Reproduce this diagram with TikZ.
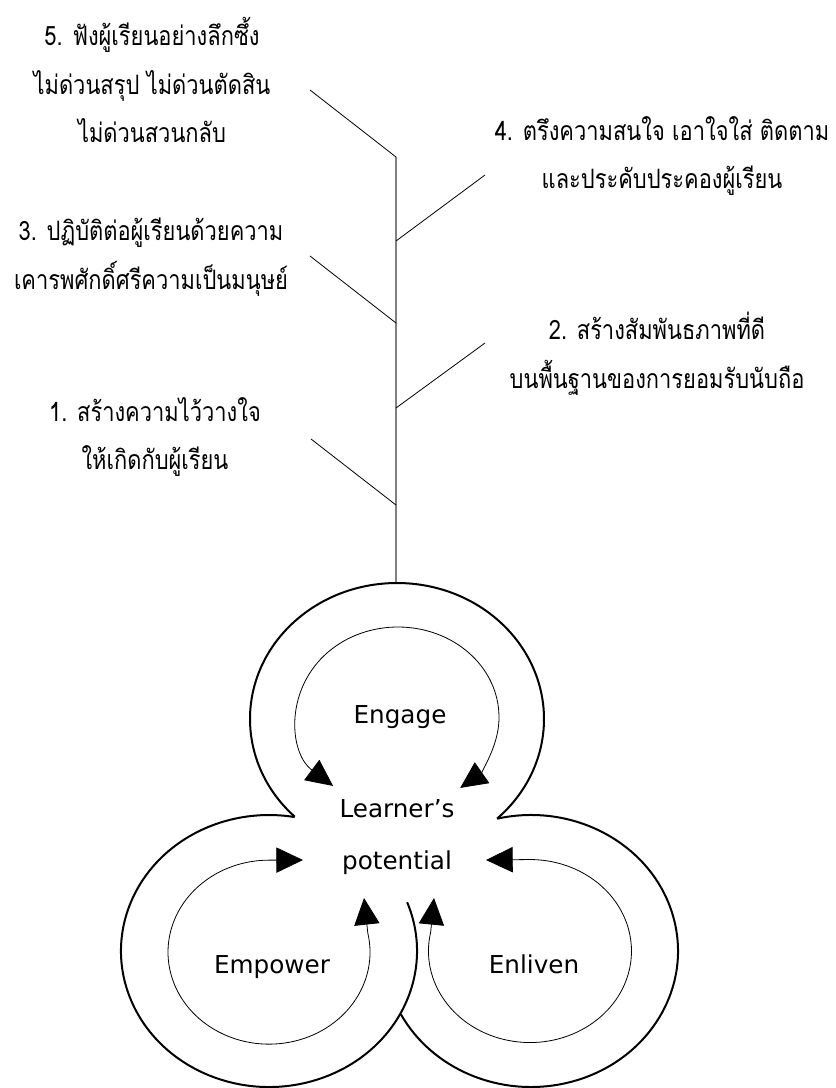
\documentclass[tikz,border=0pt]{standalone}
\usepackage{fontspec}
\setmainfont{DejaVu Sans}
\newfontfamily\thaifont[Script=Thai,FakeStretch=0.82]{Loma}
\usetikzlibrary{arrows.meta}

\begin{document}
\begin{tikzpicture}[x=0.75pt,y=-0.75pt,
  branch/.style={black,line width=0.6pt},
  rim/.style={black,line width=1.5pt},
  loop/.style={black,line width=0.6pt,{Triangle[length=20pt,width=19pt]}-{Triangle[length=20pt,width=19pt]}},
  idea/.style={font=\thaifont\fontsize{20}{36.5}\selectfont,align=center,inner sep=0pt},
  word/.style={font=\fontsize{18.5}{22}\selectfont,inner sep=0pt,anchor=base}]
\useasboundingbox[fill=white] (0,0) rectangle (835,1088);

% trunk
\coordinate (s5) at (396,157);
\coordinate (foot) at (396,583);
\draw[gray,line width=1.1pt] (s5) -- (foot);

% branches
\coordinate (s4) at (396,241);
\coordinate (s3) at (396,323);
\coordinate (s2) at (396,408);
\coordinate (s1) at (396,505);
\coordinate (e5) at (310,90);
\coordinate (e4) at (485,175);
\coordinate (e3) at (310,256);
\coordinate (e2) at (485,343);
\coordinate (e1) at (311,439);
\foreach \i in {1,...,5} \draw[branch] (e\i) -- (s\i);

\node[idea] (t5) at (152,80) {5. ฟังผู้เรียนอย่างลึกซึ้ง\\ไม่ด่วนสรุป ไม่ด่วนตัดสิน\\ไม่ด่วนสวนกลับ};
\node[idea] (t4) at (662,156) {4. ตรึงความสนใจ เอาใจใส่ ติดตาม\\และประคับประคองผู้เรียน};
\node[idea] (t3) at (151,257) {3. ปฏิบัติต่อผู้เรียนด้วยความ\\เคารพศักดิ์ศรีความเป็นมนุษย์};
\node[idea] (t2) at (657,354) {2. สร้างสัมพันธภาพที่ดี\\บนพื้นฐานของการยอมรับนับถือ};
\node[idea] (t1) at (155,437) {1. สร้างความไว้วางใจ\\ให้เกิดกับผู้เรียน};

% outer rims
\draw[rim] (397,719) ++(134.1:147 and 136) arc[start angle=134.1,end angle=407.1,x radius=147,y radius=136];
\draw[rim] (269,951) ++(-21:148 and 136) arc[start angle=-21,end angle=280,x radius=148,y radius=136];
\draw[rim] (531,951) ++(-103.3:147 and 136) arc[start angle=-103.3,end angle=152.3,x radius=147,y radius=136];

% inner loops
\draw[loop] (398,717) ++(130:101 and 90) arc[start angle=130,end angle=412,x radius=101,y radius=90];
\draw[loop] (364,898) -- (367.8,933) arc[start angle=-12,end angle=270,x radius=101,y radius=92] -- (303,860);
\draw[loop] (434,898) -- (430.7,932) arc[start angle=192,end angle=-90,x radius=101.5,y radius=91.5] -- (486,860);

\node[word] (engage) at (400,723) {Engage};
\node[word] (learner) at (397,817) {Learner’s};
\node[word] (potential) at (397,869) {potential};
\node[word] (empower) at (272,973) {Empower};
\node[word] (enliven) at (534,973) {Enliven};
\end{tikzpicture}
\end{document}
